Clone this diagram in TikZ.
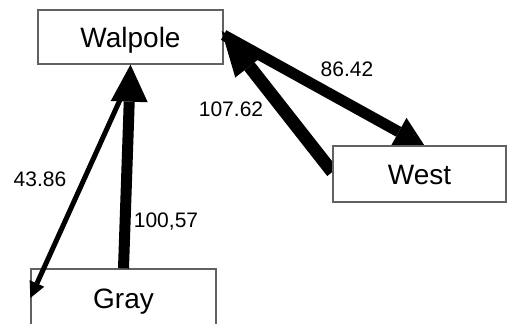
\documentclass[tikz,border=0pt]{standalone}
\usepackage{fontspec}
\setmainfont{Liberation Sans}
\usetikzlibrary{arrows.meta,calc}
\pgfdeclarelayer{front}
\pgfsetlayers{main,front}
\begin{document}
\begin{tikzpicture}[x=1pt,y=-1pt,
  box/.style={draw=black!62, line width=1.3pt, fill=white, inner sep=0pt,
    font=\fontsize{28}{30}\selectfont, text height=20pt, text depth=0pt},
  lbl/.style={inner sep=0pt, font=\fontsize{21}{24}\selectfont,
    text height=15pt, text depth=0pt},
  conn/.style={draw=black}
]
\useasboundingbox (0,0) rectangle (507,324);
\clip (0,0) rectangle (507,324);
\node[box, minimum width=185pt, minimum height=54pt] (Walpole) at (130.5,37) {Walpole};
\node[box, minimum width=185pt, minimum height=58pt] (Gray) at (123.5,298) {Gray};
\begin{pgfonlayer}{front}
\node[box, minimum width=173pt, minimum height=56pt] (West) at (419.5,174) {West};
\end{pgfonlayer}
% Walpole -> Gray (thin)
\draw[conn, line width=5pt, -{Triangle[length=16pt,width=16pt,line width=0pt]}]
  ([yshift=-12pt]Walpole.south) -- (Gray.west);
% Gray -> Walpole
\draw[conn, line width=11pt, -{Triangle[length=37pt,width=37pt,line width=0pt]}]
  (Gray.north) -- (Walpole.south);
% Walpole -> West
\draw[conn, line width=11pt, -{Triangle[length=30pt,width=32pt,line width=0pt]}]
  ([yshift=2pt]Walpole.east) -- ($(West.north)+(5.5,1)$);
% West -> Walpole
\draw[conn, line width=13pt, -{Triangle[length=45pt,width=36pt,line width=0pt]}]
  ([yshift=2pt]West.west) -- ([xshift=-2pt,yshift=6pt]Walpole.east);
\node[lbl] (l86) at (347,69) {86.42};
\node[lbl] (l107) at (231,109) {107.62};
\node[lbl] (l43) at (40,179) {43.86};
\node[lbl] (l100) at (166,220) {100,57};
\end{tikzpicture}
\end{document}
